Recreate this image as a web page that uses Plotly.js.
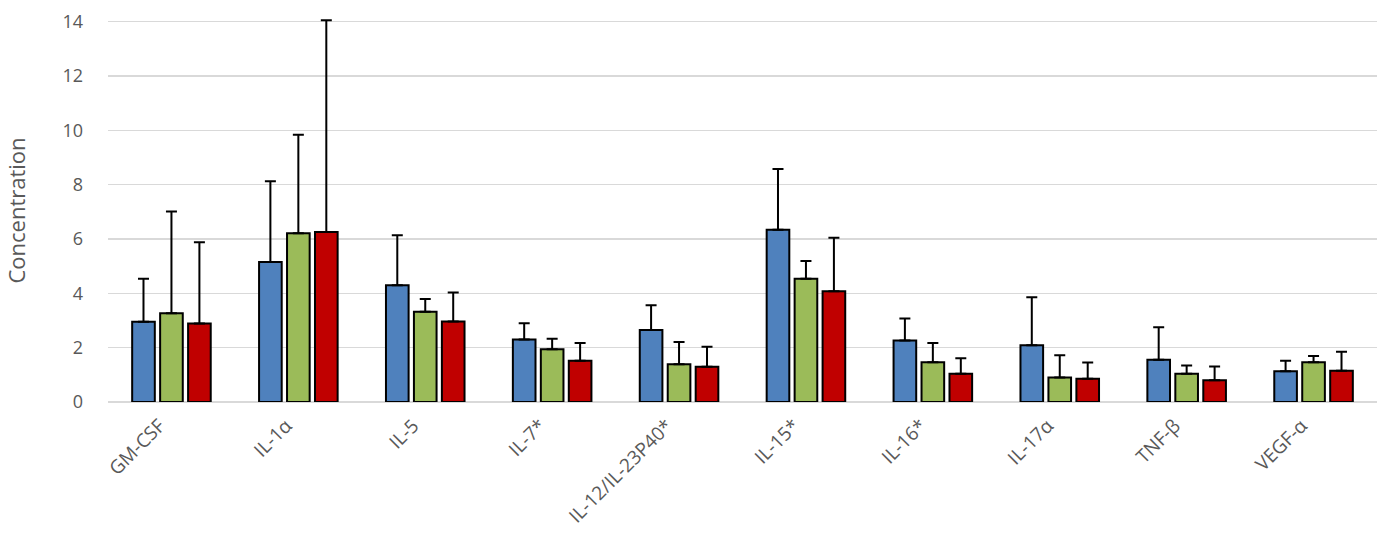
<!DOCTYPE html>
<html>
<head>
<meta charset="utf-8">
<script src="https://cdn.plot.ly/plotly-3.0.1.min.js"></script>
<style>html,body{margin:0;padding:0;background:#fff;}#chart{width:1377px;height:543px;}</style>
</head>
<body>
<div id="chart"></div>
<script>
const categories = ["GM-CSF","IL-1α","IL-5","IL-7*","IL-12/IL-23P40*","IL-15*","IL-16*","IL-17α","TNF-β","VEGF-α"];
const blueValues  = [2.95, 5.15, 4.30, 2.30, 2.65, 6.34, 2.26, 2.09, 1.56, 1.13];
const blueErrors  = [1.59, 2.98, 1.84, 0.60, 0.91, 2.24, 0.81, 1.77, 1.19, 0.39];
const greenValues = [3.27, 6.21, 3.32, 1.94, 1.39, 4.54, 1.46, 0.90, 1.04, 1.46];
const greenErrors = [3.74, 3.63, 0.47, 0.39, 0.82, 0.65, 0.71, 0.82, 0.30, 0.23];
const redValues   = [2.89, 6.26, 2.96, 1.52, 1.30, 4.08, 1.04, 0.86, 0.80, 1.15];
const redErrors   = [2.99, 7.79, 1.07, 0.65, 0.73, 1.97, 0.57, 0.59, 0.51, 0.70];
const yTicks = [0, 2, 4, 6, 8, 10, 12, 14];

const zeros = categories.map(() => 0);
function series(name, y, err, color) {
  return {
    type: 'bar', name: name, x: categories, y: y,
    marker: {color: color, line: {color: '#000000', width: 2}},
    error_y: {type: 'data', array: err, arrayminus: zeros, symmetric: false,
              color: '#000000', thickness: 2, width: 5.5},
    cliponaxis: false, hoverinfo: 'x+y'
  };
}
const data = [
  series('Group 1', blueValues, blueErrors, '#4f81bd'),
  series('Group 2', greenValues, greenErrors, '#9bbb59'),
  series('Group 3', redValues, redErrors, '#c00000')
];
const FAMILY = 'Open Sans';
const layout = {
  width: 1377, height: 543,
  margin: {l: 108, r: 0, t: 19, b: 141},
  paper_bgcolor: '#ffffff', plot_bgcolor: '#ffffff',
  showlegend: false,
  barmode: 'group', bargap: 0.339, bargroupgap: 0.19,
  font: {family: FAMILY, size: 18, color: '#595959'},
  xaxis: {
    type: 'category', tickangle: -45, showgrid: false, zeroline: false,
    showline: false, ticks: '', ticklabelshift: -12, ticklabelstandoff: 8,
    tickfont: {family: FAMILY, size: 19, color: '#595959'},
    automargin: false
  },
  yaxis: {
    range: [0, 14.1], tickvals: yTicks, ticktext: yTicks.map(String),
    showgrid: true, gridcolor: '#d9d9d9', gridwidth: 1.5,
    zeroline: true, zerolinecolor: '#d9d9d9', zerolinewidth: 1.5,
    showline: false, ticks: '', ticklabelstandoff: 24,
    tickfont: {family: FAMILY, size: 18, color: '#595959'},
    title: {text: 'Concentration', font: {family: FAMILY, size: 22, color: '#595959'}, standoff: 30},
    automargin: false
  }
};
Plotly.newPlot('chart', data, layout, {displayModeBar: false, staticPlot: true});
</script>
</body>
</html>
